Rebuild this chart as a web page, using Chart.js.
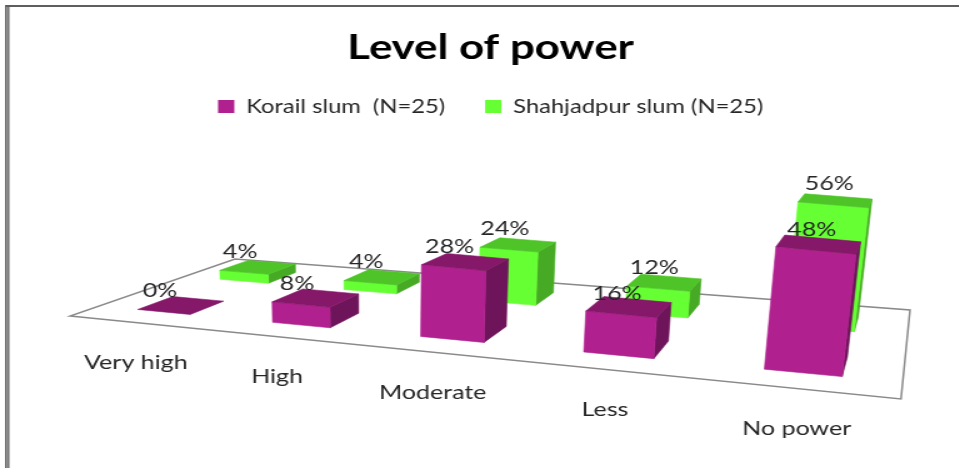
<!DOCTYPE html>
<html>
<head>
<meta charset="utf-8">
<title>Level of power</title>
<style>
  html, body { margin: 0; background: #fff; overflow: hidden; }
  #wrap { position: relative; width: 959px; height: 468px; }
  /* the chart is laid out narrow and widened 1.25x */
  #chart { position: absolute; left: 0; top: 0; transform: scaleX(1.25); transform-origin: 0 0; }
</style>
<script src="https://cdn.jsdelivr.net/npm/chart.js@4"></script>
</head>
<body>
<div id="wrap"><canvas id="chart" width="767" height="468"></canvas></div>
<script>
const levels = ['Very high', 'High', 'Moderate', 'Less', 'No power'];
const korail = [0, 8, 28, 16, 48];
const shahjadpur = [4, 4, 24, 12, 56];
const seriesNames = ['Korail slum  (N=25)', 'Shahjadpur slum (N=25)'];

const FONT = "Lato, 'Open Sans', sans-serif";

// face colours for each series: front, top, right side
const faces = [
  { front: '#B0208F', top: '#86186A', side: '#6E145A' },
  { front: '#66FF33', top: '#4EC428', side: '#46AA24' }
];

// perspective set-up of the floor (front-left, front-right, back-right, back-left)
const view = {
  floor: [[56, 316], [720.8, 399], [728, 310], [188, 259]],
  vanish: [297, 4500],   // where vertical edges meet, far below
  rise: 161,             // full value range lifted at the front edge
  fade: 0.32,            // how fast heights shrink going back
  depthFill: 0.4,        // share of each row taken by the bar
  labelDrop: 40
};

function homography(q) {
  const [[x0, y0], [x1, y1], [x2, y2], [x3, y3]] = q;
  const dx1 = x1 - x2, dx2 = x3 - x2, dx3 = x0 - x1 + x2 - x3;
  const dy1 = y1 - y2, dy2 = y3 - y2, dy3 = y0 - y1 + y2 - y3;
  const den = dx1 * dy2 - dx2 * dy1;
  const g = (dx3 * dy2 - dx2 * dy3) / den;
  const h = (dx1 * dy3 - dx3 * dy1) / den;
  return {
    a: x1 - x0 + g * x1, b: x3 - x0 + h * x3, c: x0,
    d: y1 - y0 + g * y1, e: y3 - y0 + h * y3, f: y0, g, h
  };
}

const H = homography(view.floor);

// u: across categories, w: depth, f: share of the value axis
function project(u, w, f) {
  const den = H.g * u + H.h * w + 1;
  const x = (H.a * u + H.b * w + H.c) / den;
  const y = (H.d * u + H.e * w + H.f) / den;
  const lift = f * view.rise / (1 + view.fade * w);
  const dx = x - view.vanish[0], dy = y - view.vanish[1];
  const len = Math.hypot(dx, dy);
  return [x + dx / len * lift, y + dy / len * lift];
}

function fillFace(ctx, pts, color) {
  ctx.beginPath();
  pts.forEach((p, i) => i ? ctx.lineTo(p[0], p[1]) : ctx.moveTo(p[0], p[1]));
  ctx.closePath();
  ctx.fillStyle = color;
  ctx.strokeStyle = color;
  ctx.lineWidth = 0.6;
  ctx.fill();
  ctx.stroke();
}

const bars3d = {
  id: 'bars3d',
  beforeDraw(chart) {
    const ctx = chart.ctx;
    // outer frame, only its top and left edges fall inside the view
    ctx.save();
    ctx.fillStyle = '#9a9a9a';
    ctx.fillRect(4, 5, 3.4, chart.height);
    ctx.fillStyle = '#5e5e5e';
    ctx.fillRect(4, 5, 0.9, chart.height);
    ctx.fillRect(6.4, 7, 0.9, chart.height);
    ctx.fillRect(4, 5, chart.width, 2);
    ctx.restore();
  },
  beforeDatasetsDraw(chart) {
    const ctx = chart.ctx;
    const area = chart.chartArea;
    const xScale = chart.scales.x;
    const rows = chart.data.datasets.length;
    ctx.save();

    // floor outline
    ctx.beginPath();
    [[0, 0], [1, 0], [1, 1], [0, 1]].forEach(([u, w], i) => {
      const p = project(u, w, 0);
      i ? ctx.lineTo(p[0], p[1]) : ctx.moveTo(p[0], p[1]);
    });
    ctx.closePath();
    ctx.strokeStyle = '#8a8a8a';
    ctx.lineWidth = 1.5;
    ctx.stroke();

    // bars, back row first
    const tags = [];
    for (let r = rows - 1; r >= 0; r--) {
      const meta = chart.getDatasetMeta(r);
      const col = faces[r];
      const w0 = (r + (1 - view.depthFill) / 2) / rows;
      const w1 = w0 + view.depthFill / rows;
      meta.data.forEach((bar, i) => {
        const u0 = (bar.x - bar.width / 2 - area.left) / area.width;
        const u1 = (bar.x + bar.width / 2 - area.left) / area.width;
        const f = (bar.base - bar.y) / (area.bottom - area.top);
        const fl = project(u0, w0, 0), fr = project(u1, w0, 0), br = project(u1, w1, 0);
        const tfl = project(u0, w0, f), tfr = project(u1, w0, f);
        const tbr = project(u1, w1, f), tbl = project(u0, w1, f);
        if (f > 0) {
          fillFace(ctx, [fr, br, tbr, tfr], col.side);
          fillFace(ctx, [fl, fr, tfr, tfl], col.front);
        }
        fillFace(ctx, [tfl, tfr, tbr, tbl], col.top);
        const c = project((u0 + u1) / 2, w0, f);
        tags.push({ x: c[0] - 3, y: c[1] - 21, text: chart.data.datasets[r].data[i] + '%' });
      });
    }

    // value labels
    ctx.font = '20px ' + FONT;
    ctx.fillStyle = '#262626';
    ctx.textAlign = 'center';
    ctx.textBaseline = 'middle';
    tags.forEach(t => ctx.fillText(t.text, t.x, t.y));

    // category labels under the front edge
    ctx.font = '20px ' + FONT;
    chart.data.labels.forEach((label, i) => {
      const u = (xScale.getPixelForValue(i) - area.left) / area.width;
      const p = project(u, 0, 0);
      ctx.fillText(label, p[0], p[1] + view.labelDrop);
    });

    ctx.restore();
    return false;
  }
};

new Chart(document.getElementById('chart'), {
  type: 'bar',
  data: {
    labels: levels,
    datasets: [
      { label: seriesNames[0], data: korail, backgroundColor: faces[0].front, borderWidth: 0 },
      { label: seriesNames[1], data: shahjadpur, backgroundColor: faces[1].front, borderWidth: 0 }
    ]
  },
  options: {
    responsive: false,
    animation: false,
    devicePixelRatio: 1,
    layout: { padding: { left: 18 } },
    datasets: { bar: { grouped: false, categoryPercentage: 0.4, barPercentage: 1 } },
    scales: {
      x: { display: false },
      y: { display: false, min: 0, max: 60 }
    },
    plugins: {
      title: {
        display: true,
        text: 'Level of power',
        color: '#000',
        font: { family: FONT, size: 35, weight: 'bold', lineHeight: 1 },
        padding: { top: 30, bottom: 0 }
      },
      legend: {
        labels: {
          boxWidth: 13,
          boxHeight: 13,
          padding: 32,
          color: '#262626',
          font: { family: FONT, size: 19 }
        }
      },
      tooltip: { enabled: false }
    }
  },
  plugins: [bars3d]
});
</script>
</body>
</html>
